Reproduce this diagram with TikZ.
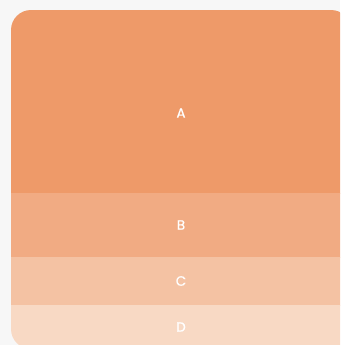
\documentclass[tikz,border=0pt]{standalone}
\usepackage{fontspec}
\setmainfont{Poppins}
\newfontfamily\lblfont[FakeBold=0.8]{Poppins}
\usepackage{xcolor}
\usepackage{tikz}
\usetikzlibrary{positioning}

\definecolor{bgray}{HTML}{F7F7F7}
\definecolor{bandA}{HTML}{EE9A69}
\definecolor{bandB}{HTML}{F1AB83}
\definecolor{bandC}{HTML}{F4C2A3}
\definecolor{bandD}{HTML}{F8D9C4}

\begin{document}
\begin{tikzpicture}[
        x=1pt, y=-1pt,
        band/.style={rectangle, inner sep=0pt, outer sep=0pt, minimum width=340pt},
        lbl/.style={text=white, inner sep=0pt, font=\lblfont\fontsize{13.5}{15}\selectfont}
        ]
        \useasboundingbox (0,0) rectangle (340,345);
        \fill[bgray] (0,0) rectangle (340,345);
        \begin{scope}
        \clip (0,0) rectangle (340,345);
        \clip[rounded corners=20pt] (11,10) rectangle (351,349);
        
        \node[band, fill=bandA, minimum height=184pt, anchor=north west] (a) at (11,10) {};
        \node[band, fill=bandB, minimum height=65pt, anchor=north west] (b) at (11,193) {};
        \node[band, fill=bandC, minimum height=49pt, anchor=north west] (c) at (11,257) {};
        \node[band, fill=bandD, minimum height=44pt, anchor=north west] (d) at (11,305) {};
        \end{scope}
        
        \node[lbl] (la) at (181,113) {A};
        \node[lbl] (lb) at (181,225) {B};
        \node[lbl] (lc) at (181,281) {C};
        \node[lbl] (ld) at (181,327) {D};
    \end{tikzpicture}
\end{document}
